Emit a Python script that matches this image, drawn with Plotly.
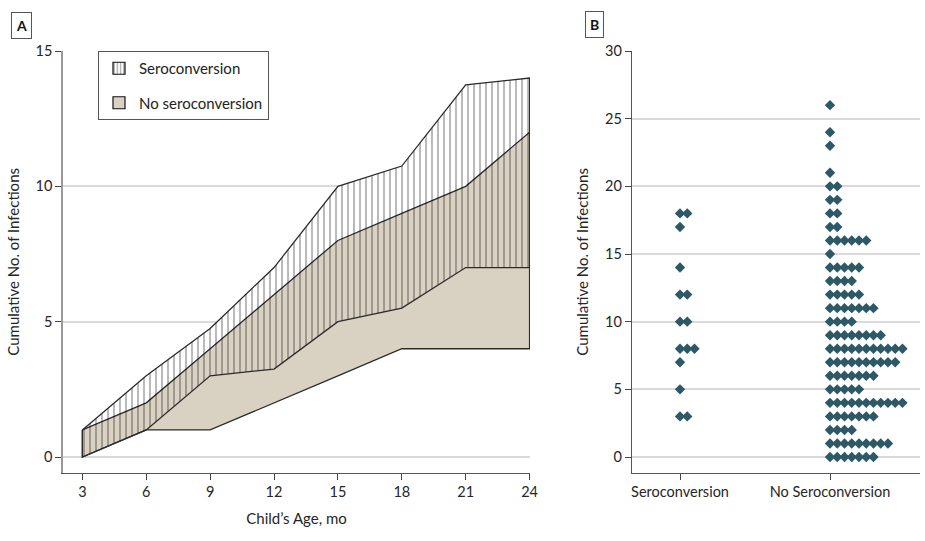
import plotly.graph_objects as go

# ---------------- Panel A data ----------------
age_months = [3, 6, 9, 12, 15, 18, 21, 24]
sero_upper = [1, 3, 4.75, 7, 10, 10.75, 13.75, 14]
sero_lower = [0, 1, 3, 3.25, 5, 5.5, 7, 7]
nosero_upper = [1, 2, 4, 6, 8, 9, 10, 12]
nosero_lower = [0, 1, 1, 2, 3, 4, 4, 4]
a_yticks = [0, 5, 10, 15]

# ---------------- Panel B data ----------------
groups = ["Seroconversion", "No Seroconversion"]
sero_values = [18, 17, 14, 12, 10, 8, 7, 5, 3]
sero_counts = [2, 1, 1, 2, 2, 3, 1, 1, 2]
nosero_values = [26, 24, 23, 21, 20, 19, 18, 17, 16, 15, 14, 13, 12, 11, 10, 9, 8, 7, 6, 5, 4, 3, 2, 1, 0]
nosero_counts = [1, 1, 1, 1, 2, 2, 2, 2, 6, 1, 5, 4, 5, 7, 4, 8, 11, 10, 7, 5, 11, 7, 4, 9, 7]
b_yticks = [0, 5, 10, 15, 20, 25, 30]

FONT = "Lato"
TAN = "#d9d1c2"
LINE = "#2b2b2b"
DOT = "#2d5866"
GRID = "#dadada"
TXT = "#262626"


def band(upper, lower):
    xs = list(age_months) + list(reversed(age_months)) + [age_months[0]]
    ys = list(upper) + list(reversed(lower)) + [upper[0]]
    return xs, ys


fig = go.Figure()

sx, sy = band(sero_upper, sero_lower)
nx, ny = band(nosero_upper, nosero_lower)

# white base of seroconversion band (hides grid)
fig.add_trace(go.Scatter(x=sx, y=sy, mode="lines", fill="toself", fillcolor="white",
                         line=dict(width=0, color="white"), showlegend=False,
                         hoverinfo="skip", xaxis="x", yaxis="y"))
# no seroconversion band
fig.add_trace(go.Scatter(x=nx, y=ny, mode="lines", fill="toself", fillcolor=TAN,
                         line=dict(width=1.3, color=LINE), showlegend=False,
                         name="No seroconversion", xaxis="x", yaxis="y"))
# hatched seroconversion band on top
fig.add_trace(go.Scatter(x=sx, y=sy, mode="lines", fill="toself",
                         fillcolor="rgba(0,0,0,0)",
                         fillpattern=dict(shape="|", fgcolor="#000000",
                                          bgcolor="rgba(0,0,0,0)", size=6,
                                          solidity=0.18),
                         line=dict(width=1.3, color=LINE), showlegend=False,
                         name="Seroconversion", xaxis="x", yaxis="y"))

# legend entries
fig.add_trace(go.Bar(x=[None], y=[None], name="Seroconversion", legendgroup="s",
                     marker=dict(color="white", line=dict(color="#111", width=1.2),
                                 pattern=dict(shape="|", fgcolor="#111", bgcolor="white",
                                              size=4, solidity=0.3)),
                     xaxis="x", yaxis="y", legendrank=1))
fig.add_trace(go.Bar(x=[None], y=[None], name="No seroconversion", legendgroup="n",
                     marker=dict(color=TAN, line=dict(color="#111", width=1.2)),
                     xaxis="x", yaxis="y", legendrank=2))

# ---------------- Panel B dots ----------------
step = 0.0483


def dots(idx, values, counts):
    xs, ys = [], []
    for v, c in zip(values, counts):
        for k in range(c):
            xs.append(idx + k * step)
            ys.append(v)
    return xs, ys


for i, (vals, cnts) in enumerate([(sero_values, sero_counts), (nosero_values, nosero_counts)]):
    dx, dy = dots(i, vals, cnts)
    fig.add_trace(go.Scatter(x=dx, y=dy, mode="markers",
                             marker=dict(symbol="diamond", size=8, color=DOT),
                             showlegend=False, name=groups[i],
                             xaxis="x2", yaxis="y2"))

tickfont = dict(family=FONT, size=14.5, color=TXT)
titlefont = dict(family=FONT, size=15, color=TXT)

y_dom = [1 - 472.7 / 541, 1 - 51 / 541]

fig.update_layout(
    width=925, height=541,
    margin=dict(l=0, r=0, t=0, b=0, autoexpand=False),
    paper_bgcolor="white", plot_bgcolor="white",
    font=dict(family=FONT, size=14, color=TXT),
    barmode="overlay",
    xaxis=dict(domain=[63 / 925, 530 / 925], range=[2.09, 24.02], automargin=False,
               tickvals=age_months, ticks="outside", ticklen=6, tickcolor="#444",
               showline=True, linecolor="#555", linewidth=1.3, showgrid=False,
               zeroline=False, tickfont=tickfont,
               title=dict(text="Child’s Age, mo", font=titlefont, standoff=14)),
    yaxis=dict(domain=y_dom, range=[-0.58, 15], tickvals=a_yticks, automargin=False,
               ticks="outside", ticklen=6, tickcolor="#444",
               showline=True, linecolor="#999", linewidth=1.5,
               showgrid=True, gridcolor=GRID, gridwidth=2, zeroline=False,
               tickfont=tickfont,
               title=dict(text="Cumulative No. of Infections", font=titlefont, standoff=12)),
    xaxis2=dict(domain=[632 / 925, 920 / 925], range=[-0.32, 1.6], automargin=False,
                tickvals=[0, 1], ticktext=groups, ticks="outside", ticklen=6,
                tickcolor="#444", showline=True, linecolor="#555", linewidth=1.3,
                showgrid=False, zeroline=False, tickfont=tickfont, anchor="y2"),
    yaxis2=dict(domain=y_dom, range=[-1.16, 30], tickvals=b_yticks, automargin=False,
                ticks="outside", ticklen=6, tickcolor="#444",
                showline=True, linecolor="#555", linewidth=1.3,
                showgrid=True, gridcolor=GRID, gridwidth=2, zeroline=False,
                tickfont=tickfont, anchor="x2",
                title=dict(text="Cumulative No. of Infections", font=titlefont, standoff=12)),
    legend=dict(x=98 / 925, y=1 - 51 / 541, xanchor="left", yanchor="top",
                bgcolor="white", bordercolor="#555", borderwidth=1,
                font=dict(family=FONT, size=15, color="#222"),
                traceorder="grouped", tracegroupgap=12),
    annotations=[
        dict(text="<b>A</b>", xref="paper", yref="paper", x=21.5 / 925, y=1 - 25 / 541,
             xanchor="center", yanchor="middle",
             showarrow=False, font=dict(family=FONT, size=14, color="#111"),
             bordercolor="#555", borderwidth=1, borderpad=4, bgcolor="white"),
        dict(text="<b>B</b>", xref="paper", yref="paper", x=594 / 925, y=1 - 24 / 541,
             xanchor="center", yanchor="middle",
             showarrow=False, font=dict(family=FONT, size=14, color="#111"),
             bordercolor="#555", borderwidth=1, borderpad=4, bgcolor="white"),
    ],
)

fig.write_html("out.html", post_script="document.body.style.margin='0px';",
               config={"displayModeBar": False})
